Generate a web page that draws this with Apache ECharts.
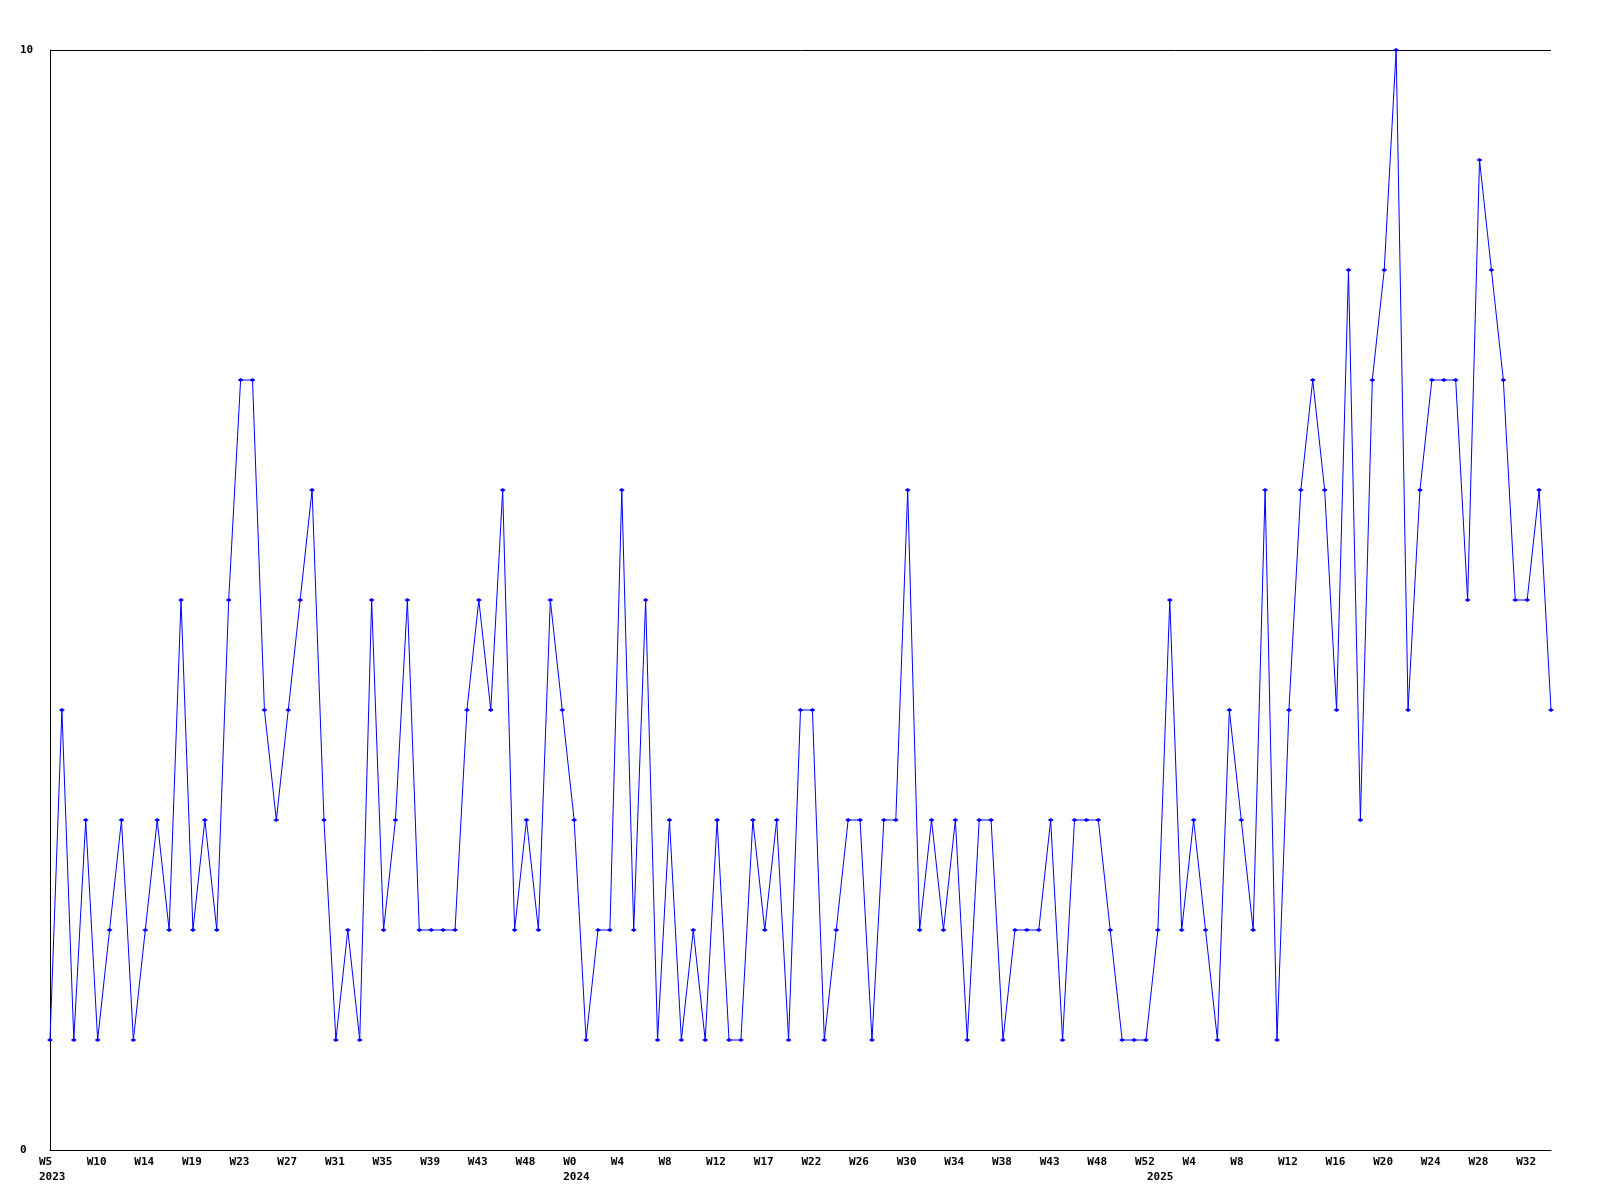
<!DOCTYPE html>
<html>
<head>
<meta charset="utf-8">
<script src="https://cdn.jsdelivr.net/npm/echarts@6/dist/echarts.min.js"></script>
<style>
  html, body { margin: 0; padding: 0; background: #ffffff; }
  #chart { width: 1600px; height: 1200px; }
</style>
</head>
<body>
<div id="chart"></div>
<script>
// Weekly values, one per point, from 2023 W5 onward
const values = [
  1, 4, 1, 3, 1, 2, 3, 1, 2, 3, 2, 5, 2, 3, 2, 5, 7, 7, 4, 3,
  4, 5, 6, 3, 1, 2, 1, 5, 2, 3, 5, 2, 2, 2, 2, 4, 5, 4, 6, 2,
  3, 2, 5, 4, 3, 1, 2, 2, 6, 2, 5, 1, 3, 1, 2, 1, 3, 1, 1, 3,
  2, 3, 1, 4, 4, 1, 2, 3, 3, 1, 3, 3, 6, 2, 3, 2, 3, 1, 3, 3,
  1, 2, 2, 2, 3, 1, 3, 3, 3, 2, 1, 1, 1, 2, 5, 2, 3, 2, 1, 4,
  3, 2, 6, 1, 4, 6, 7, 6, 4, 8, 3, 7, 8, 10, 4, 6, 7, 7, 7, 5,
  9, 8, 7, 5, 5, 6, 4
];

// Week tick labels, one for every 4th point
const weekTickLabels = [
  'W5', 'W10', 'W14', 'W19', 'W23', 'W27', 'W31', 'W35', 'W39', 'W43', 'W48',
  'W0', 'W4', 'W8', 'W12', 'W17', 'W22', 'W26', 'W30', 'W34', 'W38', 'W43', 'W48', 'W52',
  'W4', 'W8', 'W12', 'W16', 'W20', 'W24', 'W28', 'W32'
];
const weekTickStep = 4;

// Year labels and the point index where each year begins
const yearTickLabels = ['2023', '2024', '2025'];
const yearTickIndex = [0, 44, 93];

// Y axis range
const yMin = 0;
const yMax = 10;

const categories = values.map((v, i) => String(i));

const FONT = 'DejaVu Sans Mono';
const labelRich = {
  t: {
    width: 22,
    align: 'left',
    fontFamily: FONT,
    fontWeight: 'bold',
    fontSize: 11,
    lineHeight: 12,
    color: '#000000'
  }
};

const chart = echarts.init(document.getElementById('chart'), null, { renderer: 'canvas' });

chart.setOption({
  animation: false,
  backgroundColor: '#ffffff',
  grid: { left: 50, right: 49, top: 50, bottom: 50, containLabel: false },
  xAxis: [
    {
      type: 'category',
      data: categories,
      boundaryGap: false,
      position: 'bottom',
      axisLine: { show: true, lineStyle: { color: '#000000', width: 1 } },
      axisTick: { show: false },
      splitLine: { show: false },
      axisLabel: {
        show: true,
        interval: weekTickStep - 1,
        margin: 6,
        align: 'center',
        formatter: function (value, index) {
          const k = Math.round(index / weekTickStep);
          const txt = weekTickLabels[k] !== undefined ? weekTickLabels[k] : '';
          return '{t|' + txt + '}';
        },
        rich: labelRich
      }
    },
    {
      type: 'category',
      data: categories,
      boundaryGap: false,
      position: 'bottom',
      offset: 0,
      axisLine: { show: false },
      axisTick: { show: false },
      splitLine: { show: false },
      axisLabel: {
        show: true,
        interval: function (index) { return yearTickIndex.indexOf(index) >= 0; },
        margin: 21,
        align: 'center',
        formatter: function (value, index) {
          const k = yearTickIndex.indexOf(index);
          return k >= 0 ? '{t|' + yearTickLabels[k] + '}' : '';
        },
        rich: labelRich
      }
    }
  ],
  yAxis: {
    type: 'value',
    min: yMin,
    max: yMax,
    interval: 10,
    axisLine: { show: true, lineStyle: { color: '#000000', width: 1 } },
    axisTick: { show: false },
    splitLine: { show: true, lineStyle: { color: '#000000', width: 1 } },
    axisLabel: {
      show: true,
      margin: 30,
      align: 'left',
      verticalAlign: 'middle',
      fontFamily: FONT,
      fontWeight: 'bold',
      fontSize: 11,
      color: '#000000'
    }
  },
  series: [
    {
      type: 'line',
      data: values,
      xAxisIndex: 0,
      yAxisIndex: 0,
      showSymbol: true,
      showAllSymbol: true,
      symbol: 'diamond',
      symbolSize: [6, 4],
      itemStyle: { color: '#0000ff' },
      lineStyle: { color: '#0000ff', width: 1 },
      clip: true,
      silent: true
    }
  ]
});
</script>
</body>
</html>
